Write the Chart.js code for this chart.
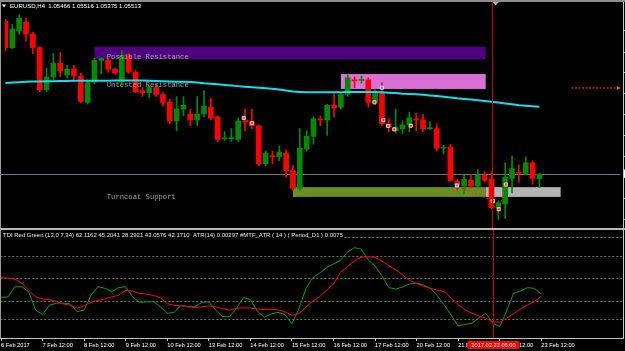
<!DOCTYPE html>
<html>
<head>
<meta charset="utf-8">
<script src="https://cdn.jsdelivr.net/npm/chart.js@4.4.1/dist/chart.umd.min.js"></script>
<style>
html,body{margin:0;padding:0;background:#000;width:625px;height:351px;overflow:hidden;}
#c1{position:absolute;left:0;top:0;}
#c2{position:absolute;left:0;top:229px;}
</style>
</head>
<body>
<canvas id="c1" width="625" height="229"></canvas>
<canvas id="c2" width="625" height="122"></canvas>
<script>
// ---------------- DATA ----------------
const symbolTitle = 'EURUSD,H4';

const opens = [1.07078,1.06808,1.06978,1.07068,1.06948,1.06808,1.06378,1.06508,1.06648,1.06528,
1.06588,1.06518,1.06248,1.06458,1.06678,1.06678,1.06588,1.06458,1.06728,1.06558,
1.06368,1.06348,1.06398,1.06328,1.06248,1.06058,1.06178,1.06128,1.06068,1.06128,
1.06198,1.06098,1.05873,1.05873,1.05868,1.06058,1.06048,1.06008,1.05618,1.05698,
1.05688,1.05728,1.05548,1.05368,1.05768,1.05898,1.06078,1.06068,1.06218,1.06198,
1.06328,1.06478,1.06473,1.06478,1.06248,1.06348,1.06028,1.05958,1.05978,1.06018,
1.06078,1.06068,1.05978,1.05978,1.05778,1.05788,1.05438,1.05388,1.05448,1.05388,
1.05498,1.05458,1.05168,1.05208,1.05468,1.05528,1.05518,1.05628,1.05466];

const highs = [1.07098,1.07048,1.07148,1.07108,1.06968,1.06818,1.06598,1.06748,1.06758,1.06628,
1.06628,1.06548,1.06478,1.06698,1.06708,1.06698,1.06598,1.06778,1.06748,1.06578,
1.06398,1.06418,1.06428,1.06348,1.06278,1.06308,1.06308,1.06178,1.06308,1.06368,
1.06288,1.06108,1.05948,1.05978,1.06088,1.06178,1.06178,1.06018,1.05748,1.05748,
1.05798,1.05758,1.05598,1.05978,1.05958,1.06098,1.06108,1.06228,1.06348,1.06348,
1.06528,1.06508,1.06518,1.06498,1.06378,1.06448,1.06078,1.06178,1.06058,1.06148,
1.06138,1.06128,1.06048,1.06028,1.05808,1.05818,1.05458,1.05508,1.05508,1.05558,
1.05538,1.05538,1.05238,1.05628,1.05698,1.05608,1.05688,1.05648,1.05516];

const lows = [1.06778,1.06798,1.06948,1.06878,1.06748,1.06358,1.06358,1.06478,1.06508,1.06498,
1.06478,1.06248,1.06228,1.06438,1.06538,1.06558,1.06538,1.06448,1.06548,1.06348,
1.06308,1.06298,1.06308,1.06208,1.06028,1.05958,1.06108,1.06008,1.06008,1.06098,
1.06068,1.05848,1.05858,1.05848,1.05848,1.05958,1.05978,1.05598,1.05598,1.05618,
1.05648,1.05478,1.05348,1.05348,1.05748,1.05818,1.06008,1.05908,1.06098,1.06178,
1.06308,1.06398,1.06448,1.06198,1.06228,1.06008,1.05948,1.05928,1.05928,1.05948,
1.05958,1.05948,1.05968,1.05748,1.05718,1.05438,1.05348,1.05308,1.05378,1.05378,
1.05438,1.05158,1.05048,1.05058,1.05318,1.05428,1.05508,1.05408,1.05375];

const closes = [1.06808,1.06998,1.07108,1.06948,1.06808,1.06378,1.06508,1.06648,1.06568,1.06588,
1.06518,1.06258,1.06448,1.06678,1.06698,1.06588,1.06548,1.06728,1.06558,1.06358,
1.06348,1.06398,1.06328,1.06248,1.06058,1.06178,1.06218,1.06068,1.06128,1.06208,
1.06088,1.05868,1.05878,1.05878,1.06058,1.06048,1.06008,1.05618,1.05728,1.05688,
1.05738,1.05548,1.05368,1.05778,1.05898,1.06078,1.06068,1.06218,1.06188,1.06328,
1.06498,1.06468,1.06478,1.06248,1.06338,1.06028,1.05998,1.05988,1.06018,1.06088,
1.06068,1.05978,1.05988,1.05778,1.05788,1.05448,1.05398,1.05458,1.05388,1.05498,
1.05448,1.05168,1.05218,1.05478,1.05568,1.05518,1.05628,1.05468,1.05513];

const maValues = [1.06446,1.06450,1.06454,1.06458,1.06461,1.06462,1.06464,1.06465,1.06466,1.06467,
1.06468,1.06468,1.06469,1.06469,1.06470,1.06470,1.06471,1.06471,1.06471,1.06471,
1.06471,1.06469,1.06466,1.06464,1.06462,1.06460,1.06458,1.06456,1.06452,1.06444,
1.06438,1.06432,1.06426,1.06420,1.06414,1.06408,1.06403,1.06397,1.06392,1.06386,
1.06380,1.06368,1.06358,1.06355,1.06352,1.06351,1.06351,1.06351,1.06351,1.06352,
1.06354,1.06355,1.06355,1.06355,1.06354,1.06351,1.06347,1.06343,1.06336,1.06333,
1.06330,1.06325,1.06319,1.06313,1.06305,1.06297,1.06289,1.06283,1.06276,1.06269,
1.06261,1.06253,1.06245,1.06236,1.06227,1.06218,1.06212,1.06207,1.06202];

const tdiGreen = [41.6,41.8,46.3,46.3,44.1,36.0,34.1,38.2,39.0,39.1,
38.7,35.3,36.0,42.6,46.3,45.6,44.1,45.9,46.3,41.9,
39.4,39.6,39.7,37.5,34.6,35.0,38.2,37.5,37.5,39.4,
39.6,36.0,33.1,33.1,36.8,41.5,40.6,35.6,32.8,34.3,
35.0,34.0,30.0,36.5,45.3,50.3,52.3,54.7,56.3,57.9,
61.5,63.5,62.9,58.2,55.4,51.1,45.9,45.3,46.2,47.5,
47.9,47.0,45.6,42.3,38.2,33.8,29.0,29.7,30.2,32.6,
34.6,30.2,28.7,35.6,43.4,44.4,45.9,45.6,43.0576];

const tdiRed = [50.3,50.1,49.6,47.9,44.7,41.8,40.9,40.6,39.7,38.7,
38.1,36.8,37.8,39.4,40.3,40.9,41.8,42.6,44.7,44.4,
43.4,43.0,42.5,41.5,38.8,38.1,37.9,37.5,37.2,37.5,
37.8,37.4,36.6,36.0,36.8,37.0,36.9,36.5,36.2,36.3,
36.2,35.2,33.7,34.4,37.2,40.0,41.9,44.8,47.4,52.6,
55.1,57.6,59.3,59.5,59.3,57.6,55.6,53.7,51.5,49.0,
47.8,46.5,45.6,44.8,44.1,41.2,38.5,36.2,34.6,33.4,
32.4,30.9,30.6,32.4,34.4,36.5,38.2,39.7,42.1710];

const tdiBands = [62.1162, 45.2041, 28.2921];
const tdiLevels = [32, 40, 50, 60, 68];
const atrText = 'ATR(14) 0.00297 #MTF_ATR ( 14 ) ( Period_D1 ) 0.0075';

const timeTickBars = [0,6,12,18,24,30,36,42,48,54,60,66,72,78];
const timeTickLabels = ['6 Feb 2017','7 Feb 12:00','8 Feb 12:00','9 Feb 12:00','10 Feb 12:00',
 '13 Feb 12:00','14 Feb 12:00','15 Feb 12:00','16 Feb 12:00','17 Feb 12:00',
 '20 Feb 12:00','21 Feb 12:00','22 Feb 12:00','23 Feb 12:00'];

const priceTicks = [1.06988,1.06768,1.06558,1.06348,1.06128,1.05908,1.05698,1.05478,1.05268,1.05048];

// rectangles (zones): bar range and price range
const zoneNames   = ['Possible Resistance','Untested Resistance','Turncoat Support','Turncoat Support ext'];
const zoneFromBar = [13, 49, 42, 70.15];
const zoneToBar   = [70.15, 70.15, 70.15, 81.1];
const zoneTop     = [1.06818, 1.06538, 1.05378, 1.05378];
const zoneBottom  = [1.06691, 1.06385, 1.05278, 1.05278];

// text labels
const labelTexts  = ['Possible Resistance','Untested Resistance','Turncoat Support'];
const labelBars   = [14.8, 14.8, 14.8];
const labelPrices = [1.06715, 1.06423, 1.05281];

// trade markers
const markerBars   = [34.8, 36.0, 55.0, 53.9, 55.2, 55.9, 56.8, 59.2, 65.95, 71.2, 72.05, 73.1];
const markerPrices = [1.06088,1.06035,1.06398,1.06248,1.06065,1.06005,1.05971,1.06008,1.05395,1.05235,1.05151,1.05405];
const markerKinds  = ['buy','sell','buy','sell','sell','sell','sell','sell','buy','sell','sell','sell'];
const tradeLinks   = [[0,1],[8,9],[10,11]];

const alertPrice = 1.06395;
const alertFromBar = 82.7, alertToBar = 89.4;

const cursorBar = 71;
const cursorLabel = '2017.02.22 08:00';

// ---------------- STYLE ----------------
const UP = '#008a00', DOWN = '#ff0000';
const zoneColors = ['#4f0080','#da70d6','#6b8e23','#b4b4b4'];
const xMin = -0.1, xMax = 89.8;

const N = closes.length;
const idx = closes.map((_, i) => i);
const candleColors = idx.map(i => closes[i] >= opens[i] ? UP : DOWN);

const mainDecor = {
  id: 'mainDecor',
  beforeDatasetsDraw(chart) {
    const {ctx, chartArea: a, scales: {x, y}} = chart;
    ctx.save();
    zoneNames.forEach((n, k) => {
      const x0 = x.getPixelForValue(zoneFromBar[k]), x1 = x.getPixelForValue(zoneToBar[k]);
      const y0 = y.getPixelForValue(zoneTop[k]), y1 = y.getPixelForValue(zoneBottom[k]);
      ctx.fillStyle = zoneColors[k];
      ctx.fillRect(x0, y0, x1 - x0, y1 - y0);
    });
    const yb = Math.round(y.getPixelForValue(closes[N - 1])) + 0.5;
    ctx.strokeStyle = '#66778a'; ctx.lineWidth = 1;
    ctx.beginPath(); ctx.moveTo(0, yb); ctx.lineTo(a.right, yb); ctx.stroke();
    ctx.restore();
  },
  afterDatasetsDraw(chart) {
    const {ctx, chartArea: a, scales: {x, y}} = chart;
    ctx.save();
    ctx.font = '7.2px "Liberation Mono", monospace';
    ctx.fillStyle = '#a0a0a0';
    ctx.textBaseline = 'middle'; ctx.textAlign = 'left';
    labelTexts.forEach((t, k) => ctx.fillText(t, x.getPixelForValue(labelBars[k]), y.getPixelForValue(labelPrices[k])));
    const xc = Math.round(x.getPixelForValue(cursorBar)) + 0.5;
    ctx.strokeStyle = '#c80000'; ctx.lineWidth = 1;
    ctx.beginPath(); ctx.moveTo(xc, 2); ctx.lineTo(xc, chart.height); ctx.stroke();
    ctx.fillStyle = '#8c8c8c'; ctx.fillRect(0, 0, 625, 2);
    ctx.fillStyle = '#9a9a9a'; ctx.fillRect(0, 2, 1, chart.height);
    ctx.fillStyle = '#c4c4c4'; ctx.fillRect(623, 2, 1, chart.height);
    ctx.fillStyle = '#b8b8b8'; ctx.fillRect(0, 228, 625, 1);
    ctx.fillStyle = '#c4c4c4';
    priceTicks.forEach(p => ctx.fillRect(624, Math.round(y.getPixelForValue(p)), 1, 1));
    const yb = y.getPixelForValue(closes[N - 1]);
    ctx.fillStyle = '#ffffff'; ctx.fillRect(624, yb - 4.5, 1, 8);
    const xs = x.getPixelForValue(71.6);
    ctx.fillStyle = '#a6b6c8';
    ctx.beginPath(); ctx.moveTo(xs - 3, 2); ctx.lineTo(xs + 3, 2); ctx.lineTo(xs, 5.5); ctx.closePath(); ctx.fill();
    ctx.fillStyle = '#ffffff';
    ctx.beginPath(); ctx.moveTo(2, 4.5); ctx.lineTo(6, 4.5); ctx.lineTo(4, 7.5); ctx.closePath(); ctx.fill();
    ctx.font = '6.1px "Liberation Sans", Arial, sans-serif';
    ctx.textBaseline = 'middle';
    const head = symbolTitle + '  ' + [opens[N-1], highs[N-1], lows[N-1], closes[N-1]].map(v => v.toFixed(5)).join(' ');
    ctx.fillText(head, 10, 6.5, 131);
    ctx.restore();
  }
};

const markerData = markerBars.map((b, k) => ({x: b, y: markerPrices[k]}));
const tradeSets = tradeLinks.map(([p, q]) => ({
  type: 'line',
  data: [markerData[p], markerData[q]],
  borderColor: '#ff2a2a', borderWidth: 1, borderDash: [2, 2], pointRadius: 0, order: -1
}));

new Chart(document.getElementById('c1'), {
  type: 'bar',
  data: {
    datasets: [
      { type:'line', label:'MA', data: idx.map(i => ({x:i, y:maValues[i]})),
        borderColor:'#10e0ec', borderWidth:2, pointRadius:0, tension:0, order:0 },
      { label:'body', data: idx.map(i => ({x:i, y:[opens[i], closes[i]]})),
        backgroundColor: candleColors, barThickness:5, minBarLength:1, grouped:false, order:1 },
      { label:'wick', data: idx.map(i => ({x:i, y:[lows[i], highs[i]]})),
        backgroundColor: candleColors, barThickness:1, grouped:false, order:2 },
      ...tradeSets,
      { type:'line', label:'alert', data:[{x:alertFromBar, y:alertPrice},{x:alertToBar, y:alertPrice}],
        borderColor:'#ff4a1a', borderWidth:1, borderDash:[2,1.5], pointRadius:0, order:-1 },
      { type:'scatter', label:'alertArrow', data:[{x:alertToBar + 0.1, y:alertPrice}],
        pointStyle:'triangle', rotation:90, radius:2.4, backgroundColor:'#ff6a00', borderWidth:0, order:-2 },
      { type:'scatter', label:'trades', data: markerData,
        pointStyle:'rect', radius:2.2,
        backgroundColor: markerKinds.map(k => k === 'buy' ? '#3a9cff' : '#ff3030'),
        borderColor:'#f0f0f0', borderWidth:0.8, order:-3 }
    ]
  },
  options: {
    responsive:false, animation:false, devicePixelRatio:1,
    layout:{padding:{left:0, right:2, top:3, bottom:1}},
    plugins:{legend:{display:false}, tooltip:{enabled:false}},
    scales:{
      x:{ type:'linear', min:xMin, max:xMax, offset:false, grid:{offset:false}, display:false },
      y:{ min:1.04998, max:1.07248, display:false }
    }
  },
  plugins:[mainDecor]
});

// ---------------- INDICATOR ----------------
const indDecor = {
  id:'indDecor',
  beforeDatasetsDraw(chart) {
    const {ctx, chartArea:a, scales:{y}} = chart;
    ctx.save();
    ctx.strokeStyle = '#6e6e6e'; ctx.lineWidth = 1; ctx.setLineDash([2,2]);
    tdiLevels.forEach(l => {
      const yy = Math.round(y.getPixelForValue(l)) + 0.5;
      ctx.beginPath(); ctx.moveTo(a.left, yy); ctx.lineTo(a.right, yy); ctx.stroke();
    });
    ctx.restore();
  },
  afterDraw(chart) {
    const {ctx, chartArea:a, scales:{x}} = chart;
    ctx.save();
    ctx.setLineDash([]);
    ctx.fillStyle = '#b8b8b8'; ctx.fillRect(0, 0, 625, 1);
    ctx.fillStyle = '#9a9a9a'; ctx.fillRect(0, 0, 1, a.bottom);
    ctx.fillStyle = '#c4c4c4'; ctx.fillRect(623, 0, 1, a.bottom + 1);
    const xc = Math.round(x.getPixelForValue(cursorBar)) + 0.5;
    ctx.fillStyle = '#c80000';
    ctx.fillRect(xc - 0.5, 1, 1, a.bottom - 1);
    const head = 'TDI Red Green (13,0 7,34) ' + tdiBands.map(v => v.toFixed(4)).join(' ') + ' ' +
      tdiGreen[N-1].toFixed(4) + ' ' + tdiRed[N-1].toFixed(4) + '  ' + atrText;
    ctx.fillStyle = '#000'; ctx.fillRect(1, 2, 343, 8);
    ctx.fillStyle = '#e8e8e8';
    ctx.font = '6px "Liberation Sans", Arial, sans-serif';
    ctx.textBaseline = 'middle'; ctx.textAlign = 'left';
    ctx.fillText(head, 3, 6.3, 340);
    ctx.fillStyle = '#ff0000';
    ctx.fillRect(xc - 26, a.bottom + 3, 52, 8);
    ctx.fillStyle = '#ffffff';
    ctx.font = '5.7px "Liberation Sans", Arial, sans-serif';
    ctx.textAlign = 'center';
    ctx.fillText(cursorLabel, xc, a.bottom + 7.2);
    ctx.restore();
  }
};

new Chart(document.getElementById('c2'), {
  type:'line',
  data:{ datasets:[
    { label:'TDI red', data: idx.map(i => ({x:i, y:tdiRed[i]})), borderColor:'#ff0000', borderWidth:1, pointRadius:0, tension:0 },
    { label:'TDI green', data: idx.map(i => ({x:i, y:tdiGreen[i]})), borderColor:'#00a000', borderWidth:1, pointRadius:0, tension:0 }
  ]},
  options:{
    responsive:false, animation:false, devicePixelRatio:1,
    layout:{padding:{left:0, right:2, top:1, bottom:0}},
    plugins:{legend:{display:false}, tooltip:{enabled:false}},
    scales:{
      x:{ type:'linear', min:xMin, max:xMax, position:'bottom', offset:false,
          afterBuildTicks: s => { s.ticks = timeTickBars.map(v => ({value:v})); },
          afterFit: s => { s.height = 13; },
          ticks:{ autoSkip:false, maxRotation:0, minRotation:0, align:'start', color:'#ffffff', padding:1,
                  font:{family:'"Liberation Sans", Arial, sans-serif', size:5.7},
                  callback:(v, i) => timeTickLabels[i] },
          grid:{ drawOnChartArea:false, drawTicks:true, tickLength:3, color:'#c4c4c4' },
          border:{ display:true, color:'#c4c4c4', width:1 } },
      y:{ min:23.7, max:71.3, display:false }
    }
  },
  plugins:[indDecor]
});
</script>
</body>
</html>
